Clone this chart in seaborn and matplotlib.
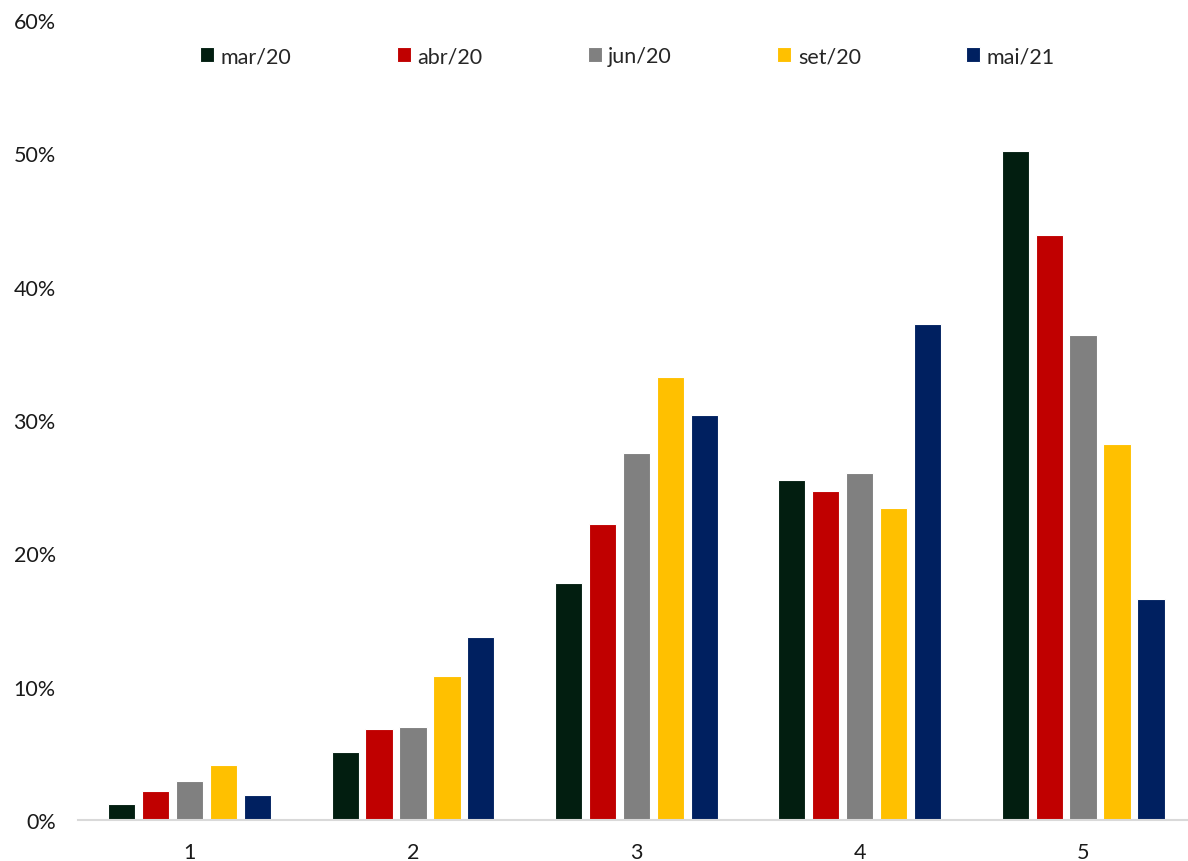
import matplotlib
matplotlib.use("Agg")
import matplotlib.pyplot as plt
import seaborn as sns
import pandas as pd
from matplotlib.ticker import PercentFormatter

# Categories on the x axis and the survey rounds (series)
categories = ["1", "2", "3", "4", "5"]
periods = ["mar/20", "abr/20", "jun/20", "set/20", "mai/21"]

# Share of responses (%) for each survey round, by category
mar20 = [1.2, 5.1, 17.8, 25.5, 50.2]
abr20 = [2.2, 6.8, 22.2, 24.7, 43.9]
jun20 = [2.9, 7.0, 27.5, 26.0, 36.4]
set20 = [4.1, 10.8, 33.2, 23.4, 28.2]
mai21 = [1.9, 13.7, 30.4, 37.2, 16.6]

colors = ["#021e10", "#c00000", "#808080", "#ffc000", "#002060"]

series = [mar20, abr20, jun20, set20, mai21]
rows = []
for period, vals in zip(periods, series):
    for cat, v in zip(categories, vals):
        rows.append({"categoria": cat, "periodo": period, "valor": v / 100})
df = pd.DataFrame(rows)

sns.set_theme(style="white")
plt.rcParams["font.family"] = ["Lato", "DejaVu Sans"]

fig = plt.figure(figsize=(11.88, 8.62), dpi=100)
ax = fig.add_axes([78 / 1188, 41 / 862, 1 - 78 / 1188, 800 / 862])

sns.barplot(
    data=df, x="categoria", y="valor", hue="periodo",
    hue_order=periods, order=categories, palette=colors, saturation=1,
    width=0.76, gap=0.2, edgecolor="white", linewidth=0.8,
    errorbar=None, ax=ax,
)

ax.set_ylim(0, 0.6)
ax.set_xlim(-0.5, 4.47)
ax.set_yticks([0, 0.1, 0.2, 0.3, 0.4, 0.5, 0.6])
ax.yaxis.set_major_formatter(PercentFormatter(1.0, decimals=0))
ax.set_xlabel("")
ax.set_ylabel("")
ax.tick_params(axis="both", length=0, labelsize=15.5, colors="#1a1a1a")
ax.tick_params(axis="y", pad=16)
ax.tick_params(axis="x", pad=16)

for side in ["top", "right", "left"]:
    ax.spines[side].set_visible(False)
ax.spines["bottom"].set_color("#d9d9d9")
ax.spines["bottom"].set_linewidth(1.5)

ax.legend(
    loc="center", bbox_to_anchor=(0.495, 0.955), ncol=5, frameon=False,
    fontsize=15.5, handlelength=0.65, handleheight=0.65, handletextpad=0.3,
    columnspacing=4.9,
)

fig.savefig("out.png", dpi=100)
